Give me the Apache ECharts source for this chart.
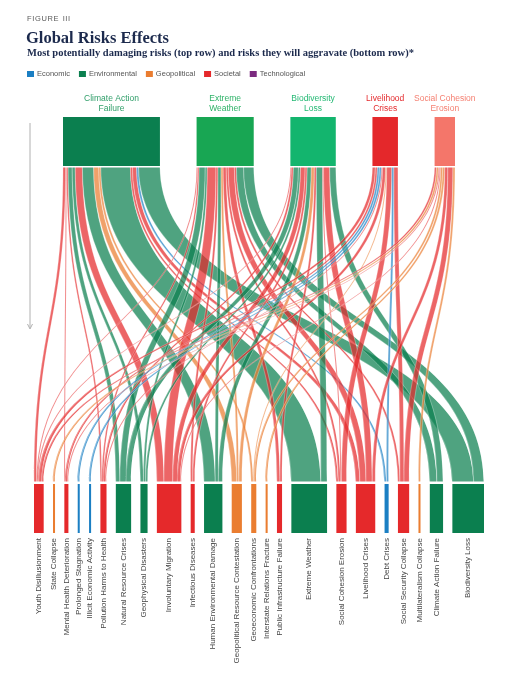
<!DOCTYPE html>
<html>
<head>
<meta charset="utf-8">
<title>Global Risks Effects</title>
<script src="https://cdn.jsdelivr.net/npm/echarts@6/dist/echarts.min.js"></script>
<style>
  html, body { margin: 0; padding: 0; background: #fff; }
  #chart { width: 519px; height: 680px; }
</style>
</head>
<body>
<div id="chart"></div>
<script>
// top row: most potentially damaging risks
var topRisks = ['Climate Action Failure', 'Extreme Weather', 'Biodiversity Loss', 'Livelihood Crises', 'Social Cohesion Erosion'];
var topLabels = ['Climate Action\nFailure', 'Extreme\nWeather', 'Biodiversity\nLoss', 'Livelihood\nCrises', 'Social Cohesion\nErosion'];
var topColors = ['#0b7f4f', '#18a653', '#13b56e', '#e4282b', '#f4766a'];
var topLabelColors = ['#2f9e69', '#2db267', '#22b873', '#e4292c', '#f58072'];

// bottom row: risks they will aggravate
var aggravated = ['Youth Disillusionment', 'State Collapse', 'Mental Health Deterioration', 'Prolonged Stagnation',
  'Illicit Economic Activity', 'Pollution Harms to Health', 'Natural Resource Crises', 'Geophysical Disasters',
  'Involuntary Migration', 'Infectious Diseases', 'Human Environmental Damage', 'Geopolitical Resource Contestation',
  'Geoeconomic Confrontations', 'Interstate Relations Fracture', 'Public Infrastructure Failure', 'Extreme Weather',
  'Social Cohesion Erosion', 'Livelihood Crises', 'Debt Crises', 'Social Security Collapse',
  'Multilateralism Collapse', 'Climate Action Failure', 'Biodiversity Loss'];
var aggravatedCategory = ['Societal', 'Geopolitical', 'Societal', 'Economic', 'Economic', 'Societal', 'Environmental',
  'Environmental', 'Societal', 'Societal', 'Environmental', 'Geopolitical', 'Geopolitical', 'Geopolitical',
  'Societal', 'Environmental', 'Societal', 'Societal', 'Economic', 'Societal', 'Geopolitical',
  'Environmental', 'Environmental'];

// flow from each top risk, in the order of the aggravated list
var fromClimateAction  = [2.5, 0, 1, 0, 0, 1.5, 4, 3, 7, 0, 11, 5, 2, 0, 0, 29, 2, 4, 2, 0, 0, 0, 21];
var fromExtremeWeather = [1, 0, 0, 0, 0, 1.5, 6, 2, 8.5, 2, 3, 2, 0, 0, 3, 0, 2, 6, 0, 2, 0, 7, 10];
var fromBiodiversity   = [1, 0, 0, 0, 0, 2, 5, 2, 4.5, 2, 4, 3, 0, 0, 2, 6, 1, 6, 0, 0, 0, 6, 0];
var fromLivelihood     = [3, 0, 2, 2, 2, 1, 0, 0, 3, 0, 0, 0, 1, 0, 0, 0, 5, 0, 2, 4, 0, 0, 0];
var fromSocialCohesion = [2, 2, 1, 0, 0, 0, 0, 0, 1, 0, 0, 0, 2, 2, 0, 0, 0, 3, 0, 5, 2, 0, 0];
var flows = [fromClimateAction, fromExtremeWeather, fromBiodiversity, fromLivelihood, fromSocialCohesion];

var categories = ['Economic', 'Environmental', 'Geopolitical', 'Societal', 'Technological'];
var categoryColors = ['#1b7fc3', '#0b7f4f', '#ea7d30', '#e5292b', '#7b2a7f'];

// layout of the sankey box
var box = { left: 34, top: 117, width: 450, height: 416 };
var nodeHeight = 49, nodeGap = 9.3, topInset = 29;

function catColor(c) { return categoryColors[categories.indexOf(c)]; }
function sum(a) { return a.reduce(function (s, v) { return s + v; }, 0); }

// spread the five top nodes evenly (same scale the library uses for the bottom row)
var total = sum(flows.map(sum));
var ky = (box.width - (aggravated.length - 1) * nodeGap) / total;
var topGap = (box.width - 2 * topInset - total * ky) / (topRisks.length - 1);

var nodes = [];
var cum = 0;
topRisks.forEach(function (name, i) {
  nodes.push({
    name: name,
    localX: (topInset + cum * ky + i * topGap) / box.width,
    itemStyle: { color: topColors[i] },
    label: {
      position: 'top', distance: 3, formatter: topLabels[i], color: topLabelColors[i],
      fontSize: 8.5, lineHeight: 10.5, align: 'center'
    }
  });
  cum += sum(flows[i]);
});
aggravated.forEach(function (name, j) {
  nodes.push({
    name: 'to ' + name,
    itemStyle: { color: catColor(aggravatedCategory[j]) },
    label: {
      position: 'bottom', distance: 5, rotate: 90, align: 'right', verticalAlign: 'middle',
      formatter: name, color: '#444', fontSize: 8
    }
  });
});

var links = [];
flows.forEach(function (row, i) {
  row.forEach(function (v, j) {
    if (v > 0) {
      links.push({
        source: topRisks[i], target: 'to ' + aggravated[j], value: v,
        lineStyle: { color: catColor(aggravatedCategory[j]), opacity: 0.72 }
      });
    }
  });
});

var chart = echarts.init(document.getElementById('chart'));
var option = {
  animation: false,
  textStyle: { fontFamily: 'Liberation Sans, Arial, sans-serif' },
  title: [
    { text: 'F\u200aI\u200aG\u200aU\u200aR\u200aE  I\u200aI\u200aI', left: 27, top: 15, padding: 0,
      textStyle: { fontSize: 7.5, fontWeight: 'normal', color: '#5a5a5a', fontFamily: 'Liberation Sans' } },
    { text: 'Global Risks Effects', left: 26, top: 30, padding: 0,
      textStyle: { fontSize: 16.5, fontWeight: 'bold', color: '#1c2a4d', fontFamily: 'Liberation Serif' } },
    { text: 'Most potentially damaging risks (top row) and risks they will aggravate (bottom row)*', left: 27, top: 48, padding: 0,
      textStyle: { fontSize: 10.5, fontWeight: 'bold', color: '#1c2a4d', fontFamily: 'Liberation Serif' } }
  ],
  legend: {
    left: 27, top: 70, padding: 0, icon: 'rect', itemWidth: 7, itemHeight: 6, itemGap: 9,
    data: categories, selectedMode: false,
    textStyle: { fontSize: 7.5, color: '#555', padding: [0, 0, 0, -2] }
  },
  graphic: [
    { type: 'line', z: 100, shape: { x1: 30, y1: 123, x2: 30, y2: 328 }, style: { stroke: '#b0b0b0', lineWidth: 1 } },
    { type: 'polyline', z: 100, shape: { points: [[27.5, 324], [30, 329], [32.5, 324]] }, style: { stroke: '#b0b0b0', lineWidth: 1, fill: null } },
    { type: 'rect', z: 100, shape: { x: box.left - 2, y: box.top + nodeHeight, width: box.width + 4, height: 1.5 }, style: { fill: '#fff' } },
    { type: 'rect', z: 100, shape: { x: box.left - 2, y: box.top + box.height - nodeHeight - 2.5, width: box.width + 4, height: 2.5 }, style: { fill: '#fff' } }
  ],
  series: [{
    type: 'sankey',
    orient: 'vertical',
    left: box.left, top: box.top, width: box.width, height: box.height,
    nodeWidth: nodeHeight,
    nodeGap: nodeGap,
    layoutIterations: 0,
    draggable: false,
    emphasis: { disabled: true },
    lineStyle: { curveness: 0.5, borderColor: '#fff', borderWidth: 0.4 },
    data: nodes,
    links: links
  }].concat(categories.map(function (c, i) {
    return { type: 'graph', name: c, data: [], itemStyle: { color: categoryColors[i] } };
  }))
};
chart.setOption(option);
</script>
</body>
</html>
